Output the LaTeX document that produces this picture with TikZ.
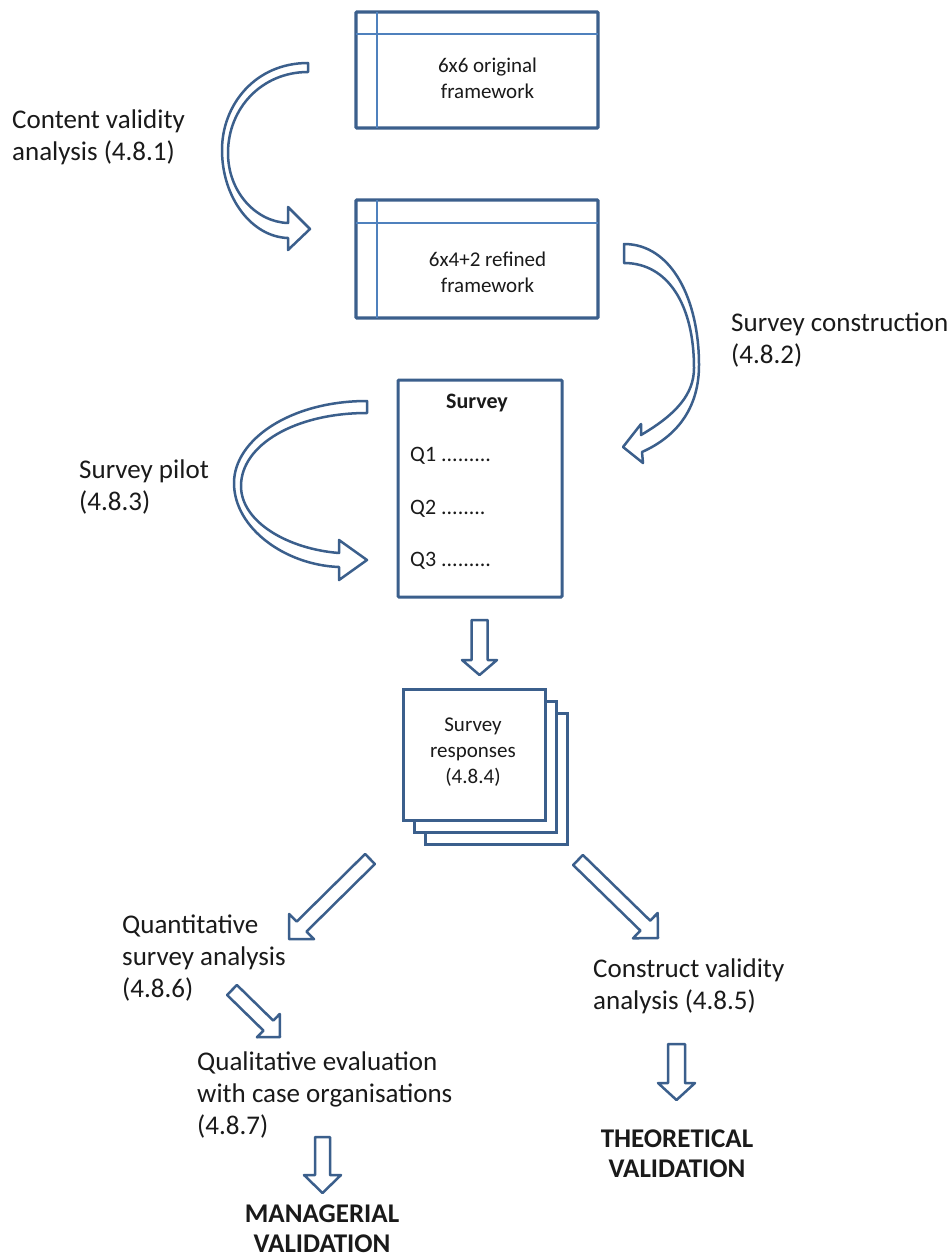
\documentclass[tikz,border=0pt]{standalone}
\usepackage{fontspec}
\setmainfont{Carlito}
\usetikzlibrary{calc}
\definecolor{edge}{HTML}{3B5F8C}
\definecolor{rule}{HTML}{4F81BD}
\definecolor{ink}{HTML}{1A1A1A}

\tikzset{
  framebox/.style={draw=edge, line width=3.2pt, fill=white, inner sep=0pt, outer sep=0pt, rounded corners=1pt},
  gridline/.style={draw=rule, line width=1.3pt},
  stackbox/.style={draw=edge, line width=3pt, fill=white, minimum width=142pt, minimum height=131pt, inner sep=0pt, outer sep=0pt},
  bandarrow/.style={draw=edge, fill=white, line width=2.5pt, line join=round},
  sidetext/.style={align=left, inner sep=0pt, text=ink, font=\fontsize{27}{32}\selectfont},
  boxtext/.style={align=center, inner sep=0pt, text=ink, font=\fontsize{21}{26}\selectfont},
  qtext/.style={inner sep=0pt, text=ink, font=\fontsize{22}{26}\selectfont},
  verdict/.style={align=center, inner sep=0pt, text=ink, font=\fontsize{27}{30}\selectfont\bfseries},
}

% block arrow: #1 tail, #2 tip, #3 half shaft width, #4 half head width, #5 head length
\newcommand\blockarrow[5]{%
  \coordinate (babase) at ($(#2)!#5!(#1)$);
  \draw[bandarrow] ($(#1)!#3!90:(#2)$) -- ($(babase)!#3!90:(#2)$) -- ($(babase)!#4!90:(#2)$)
    -- (#2) -- ($(babase)!#4!-90:(#2)$) -- ($(babase)!#3!-90:(#2)$) -- ($(#1)!#3!-90:(#2)$) -- cycle;}

\begin{document}
\begin{tikzpicture}[x=1pt,y=-1pt]
\fill[white] (0,0) rectangle (947,1260);
\useasboundingbox (0,0) rectangle (947,1260);

% framework tables
\node[framebox, minimum width=242pt, minimum height=116pt] (fw1) at (477,70) {};
\draw[gridline] ($(fw1.north west)+(0,22)$) -- ($(fw1.north east)+(0,22)$);
\draw[gridline] ($(fw1.north west)+(21,0)$) -- ($(fw1.south west)+(21,0)$);
\node[boxtext] (fw1t) at (487.5,78) {6x6 original\\framework};

\node[framebox, minimum width=242pt, minimum height=118pt] (fw2) at (477,259) {};
\draw[gridline] ($(fw2.north west)+(0,23)$) -- ($(fw2.north east)+(0,23)$);
\draw[gridline] ($(fw2.north west)+(21,0)$) -- ($(fw2.south west)+(21,0)$);
\node[boxtext] (fw2t) at (487.5,272.5) {6x4+2 refined\\framework};

% survey sheet
\node[framebox, line width=3pt, minimum width=164pt, minimum height=217pt] (survey) at (480,488.5) {};
\node[qtext, font=\fontsize{22}{26}\selectfont\bfseries] (stitle) at (477,403) {Survey};
\node[qtext, anchor=west] (q1) at (410,456) {Q1 .........};
\node[qtext, anchor=west] (q2) at (410,509) {Q2 ........};
\node[qtext, anchor=west] (q3) at (410,561) {Q3 .........};

% stack of responses
\node[stackbox] (resp3) at (496,778.5) {};
\node[stackbox] (resp2) at (485,766.5) {};
\node[stackbox] (resp) at (474,754.5) {};
\node[boxtext] (respt) at (473,752) {Survey\\responses\\(4.8.4)};

% side labels
\node[sidetext, anchor=west] (cv) at (12,137) {Content validity\\analysis (4.8.1)};
\node[sidetext, anchor=west] (sc) at (731,340) {Survey construction\\(4.8.2)};
\node[sidetext, anchor=west] (sp) at (79,487) {Survey pilot\\(4.8.3)};
\node[sidetext, anchor=west] (qs) at (122,958) {Quantitative\\survey analysis\\(4.8.6)};
\node[sidetext, anchor=west] (ql) at (197,1095) {Qualitative evaluation\\with case organisations\\(4.8.7)};
\node[sidetext, anchor=west] (cva) at (593,986) {Construct validity\\analysis (4.8.5)};
\node[verdict] (mv) at (322,1229) {MANAGERIAL\\VALIDATION};
\node[verdict] (tv) at (677,1154) {THEORETICAL\\VALIDATION};

% curved arrows: ribbon pinched where it folds over
\draw[bandarrow] (308,63) .. controls (255,63) and (222,105) .. (222,150)
  .. controls (222,198) and (252,237) .. (288,238)
  -- (288,250) -- (310,229) -- (288,207) -- (288,223)
  .. controls (256,222) and (228,192) .. (228,153)
  .. controls (228,108) and (262,72) .. (308,72) -- cycle;

\draw[bandarrow] (624,244) .. controls (672,244) and (699,300) .. (699,365)
  .. controls (699,405) and (680,435) .. (642,452)
  -- (643,463) -- (623,447) -- (641,424) -- (641,435)
  .. controls (675,415) and (694,395) .. (694,368)
  .. controls (694,305) and (668,263) .. (624,263) -- cycle;

\draw[bandarrow] (367,401) .. controls (290,401) and (234,440) .. (234,483)
  .. controls (234,528) and (285,565) .. (339,567)
  -- (339,580) -- (367,560) -- (339,540) -- (339,553)
  .. controls (288,549) and (241,522) .. (241,486)
  .. controls (241,445) and (295,413) .. (367,413) -- cycle;

% straight block arrows
\coordinate (d1s) at (479.5,620);  \coordinate (d1e) at (479.5,675);
\blockarrow{d1s}{d1e}{8pt}{17.5pt}{15pt}
\coordinate (dls) at (370,859);    \coordinate (dle) at (289,939);
\blockarrow{dls}{dle}{7pt}{17.7pt}{17.7pt}
\coordinate (drs) at (578,860);    \coordinate (dre) at (658,938);
\blockarrow{drs}{dre}{7pt}{17.7pt}{17.7pt}
\coordinate (dqs) at (232,990);    \coordinate (dqe) at (280,1037);
\blockarrow{dqs}{dqe}{7pt}{16.3pt}{16.3pt}
\coordinate (dms) at (322.5,1137); \coordinate (dme) at (322.5,1193);
\blockarrow{dms}{dme}{7.5pt}{18.5pt}{18pt}
\coordinate (dts) at (676.5,1044); \coordinate (dte) at (676.5,1100);
\blockarrow{dts}{dte}{8.5pt}{18.5pt}{17pt}
\end{tikzpicture}
\end{document}
